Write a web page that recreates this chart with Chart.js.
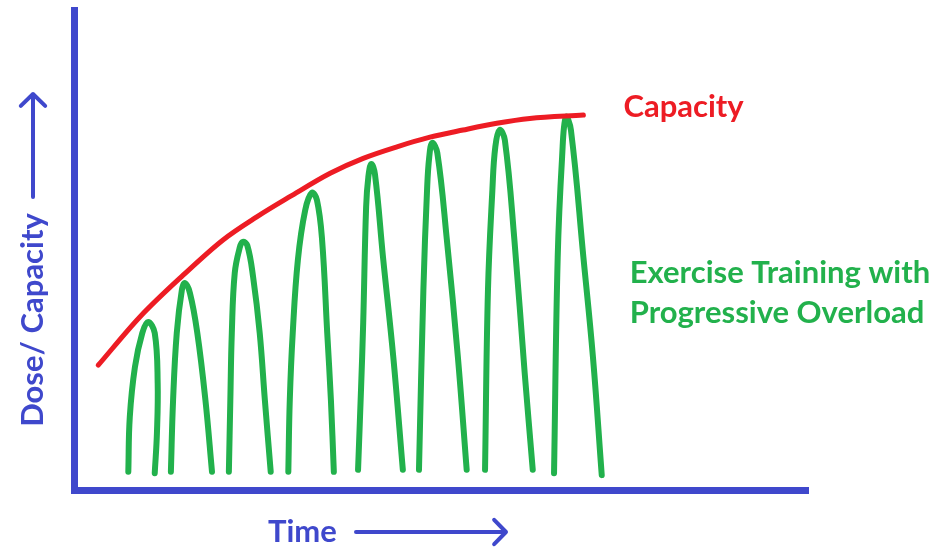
<!DOCTYPE html>
<html>
<head>
<meta charset="utf-8">
<title>Exercise Training with Progressive Overload</title>
<script src="https://cdn.jsdelivr.net/npm/chart.js@4.4.1/dist/chart.umd.min.js"></script>
<style>
  html, body { margin: 0; padding: 0; background: #fff; }
  #chart { display: block; }
</style>
</head>
<body>
<canvas id="chart" width="941" height="548"></canvas>
<script>
const BLUE = '#3f48cc';
const RED = '#ed1c24';
const GREEN = '#22b14c';
const FONT = 'bold 31px Lato, "Open Sans", sans-serif';

// capacity curve (time / dose in arbitrary 0-100 units)
const capacityTime = [3.3, 9.0, 14.9, 20.3, 24.9, 29.4, 34.9, 39.4, 44.0, 48.5, 53.0, 57.6, 62.1, 69.4];
const capacityDose = [26.0, 36.1, 44.8, 52.1, 56.9, 61.1, 66.0, 69.1, 71.5, 73.5, 75.0, 76.4, 77.4, 78.1];

// one training bout per row
const boutTime = [
  [7.4, 7.6, 8.3, 9.3, 10.1, 11.0, 11.4, 11.3, 11.0],
  [13.2, 13.5, 14.0, 14.7, 15.1, 15.8, 16.8, 17.9, 18.8],
  [21.1, 21.3, 21.5, 21.9, 22.6, 23.0, 23.6, 24.4, 25.3, 26.0, 26.8],
  [29.2, 29.4, 29.8, 30.5, 31.5, 32.4, 33.1, 33.8, 34.5, 35.0, 35.4],
  [38.7, 39.1, 39.4, 39.8, 40.1, 40.5, 41.0, 42.1, 43.5, 44.8],
  [47.0, 47.6, 48.1, 48.4, 48.8, 49.5, 50.8, 52.3, 53.5],
  [56.0, 56.4, 57.0, 57.4, 58.0, 58.7, 60.0, 61.4, 62.5],
  [65.4, 65.9, 66.5, 67.0, 67.7, 69.4, 70.7, 71.9]
];
const boutDose = [
  [3.8, 15.2, 25.6, 32.7, 35.0, 32.7, 22.3, 11.9, 3.5],
  [3.8, 18.8, 32.7, 41.7, 43.1, 41.0, 32.7, 18.8, 3.8],
  [3.8, 18.8, 32.7, 45.2, 50.6, 51.7, 51.0, 44.4, 32.7, 18.8, 3.8],
  [3.8, 18.8, 32.7, 47.9, 58.3, 61.9, 60.4, 52.1, 32.7, 18.8, 3.8],
  [4.2, 20.8, 34.8, 59.0, 65.2, 67.9, 65.8, 48.5, 27.7, 4.2],
  [4.2, 41.7, 62.5, 69.4, 72.3, 70.2, 52.1, 27.7, 4.2],
  [4.2, 41.7, 62.5, 71.5, 75.0, 72.9, 52.1, 24.4, 4.2],
  [3.5, 48.5, 69.4, 77.7, 75.0, 48.5, 27.7, 3.1]
];

const toPoints = (xs, ys) => xs.map((x, i) => ({ x, y: ys[i] }));

function arrow(ctx, x1, y1, x2, y2) {
  const a = Math.atan2(y2 - y1, x2 - x1);
  const h = 17;
  ctx.beginPath();
  ctx.moveTo(x1, y1);
  ctx.lineTo(x2, y2);
  ctx.moveTo(x2 - h * Math.cos(a - 0.8), y2 - h * Math.sin(a - 0.8));
  ctx.lineTo(x2, y2);
  ctx.lineTo(x2 - h * Math.cos(a + 0.8), y2 - h * Math.sin(a + 0.8));
  ctx.stroke();
}

// labels and axis titles with arrows
const labels = {
  id: 'labels',
  afterDraw(chart) {
    const { ctx, chartArea, scales } = chart;
    const last = capacityTime.length - 1;
    const lastBout = boutTime[boutTime.length - 1];
    ctx.save();
    ctx.font = FONT;
    ctx.textBaseline = 'middle';

    ctx.fillStyle = RED;
    ctx.fillText('Capacity', scales.x.getPixelForValue(capacityTime[last]) + 40,
      scales.y.getPixelForValue(capacityDose[last]) - 8);

    ctx.fillStyle = GREEN;
    const gx = scales.x.getPixelForValue(lastBout[lastBout.length - 1]) + 28;
    ctx.fillText('Exercise Training with', gx, scales.y.getPixelForValue(45.2));
    ctx.fillText('Progressive Overload', gx, scales.y.getPixelForValue(45.2) + 40);

    ctx.fillStyle = BLUE;
    ctx.strokeStyle = BLUE;
    ctx.lineWidth = 4;
    ctx.lineCap = 'round';
    ctx.lineJoin = 'round';

    // x title
    const ty = chartArea.bottom + 42;
    ctx.textAlign = 'left';
    ctx.fillText('Time', 268, ty);
    arrow(ctx, 356, ty, 506, ty);

    // y title
    const tx = chartArea.left - 41;
    ctx.save();
    ctx.translate(tx, 320);
    ctx.rotate(-Math.PI / 2);
    ctx.textAlign = 'center';
    ctx.fillText('Dose/ Capacity', 0, 0);
    ctx.restore();
    arrow(ctx, tx, 197, tx, 94);
    ctx.restore();
  }
};

const datasets = [{
  label: 'Capacity',
  data: toPoints(capacityTime, capacityDose),
  borderColor: RED,
  borderWidth: 5,
  borderCapStyle: 'round',
  cubicInterpolationMode: 'monotone',
  pointRadius: 0
}];
boutTime.forEach((xs, i) => {
  datasets.push({
    label: 'Bout ' + (i + 1),
    data: toPoints(xs, boutDose[i]),
    borderColor: GREEN,
    borderWidth: 6,
    borderCapStyle: 'round',
    borderJoinStyle: 'round',
    tension: 0.4,
    pointRadius: 0
  });
});

const axis = {
  type: 'linear',
  min: 0,
  max: 100,
  ticks: { display: false },
  grid: { display: false, drawTicks: false },
  border: { display: true, color: BLUE, width: 7 }
};

new Chart(document.getElementById('chart'), {
  type: 'line',
  data: { datasets },
  options: {
    responsive: false,
    animation: false,
    layout: { padding: { left: 74, right: 133, top: 10, bottom: 58 } },
    plugins: { legend: { display: false }, tooltip: { enabled: false } },
    scales: { x: { ...axis }, y: { ...axis } }
  },
  plugins: [labels]
});
</script>
</body>
</html>
